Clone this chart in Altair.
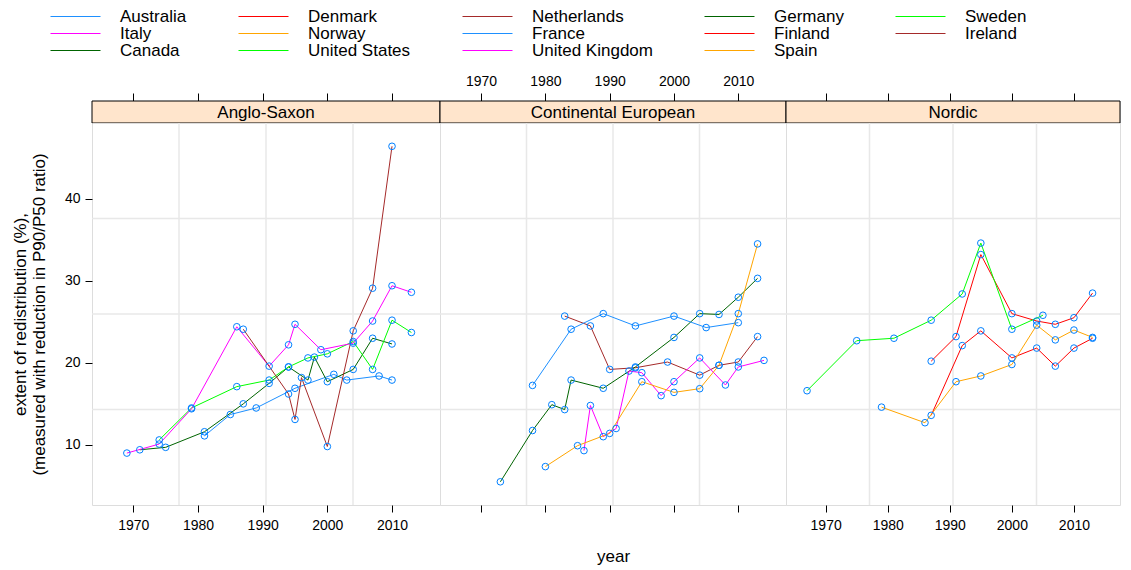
import altair as alt
import pandas as pd

# ---- data ----
countries = ["Australia", "Denmark", "Netherlands", "Germany", "Sweden",
             "Italy", "Norway", "France", "Finland", "Ireland",
             "Canada", "United States", "United Kingdom", "Spain"]
line_colors = ["#1E90FF", "#FF0000", "#A52A2A", "#006400", "#00FF00", "#FF00FF", "#FFA500",
               "#1E90FF", "#FF0000", "#A52A2A", "#006400", "#00FF00", "#FF00FF", "#FFA500"]

groups = ["Anglo-Saxon", "Continental European", "Nordic"]

anglo_members = ["Australia", "Canada", "United States", "United Kingdom", "Ireland"]
cont_members = ["Netherlands", "Germany", "France", "Italy", "Spain"]
nordic_members = ["Denmark", "Norway", "Finland", "Sweden"]

australia_years = [1981, 1985, 1989, 1995, 2001, 2003, 2008, 2010]
australia_vals = [11.1, 13.7, 14.5, 16.9, 18.6, 17.9, 18.4, 17.9]
canada_years = [1971, 1975, 1981, 1987, 1991, 1994, 1997, 1998, 2000, 2004, 2007, 2010]
canada_vals = [9.4, 9.7, 11.6, 15.0, 17.5, 19.5, 17.9, 20.7, 17.7, 19.2, 23.0, 22.3]
us_years = [1974, 1979, 1986, 1991, 1994, 1997, 2000, 2004, 2007, 2010, 2013]
us_vals = [10.6, 14.5, 17.1, 17.9, 19.5, 20.6, 21.1, 22.6, 19.2, 25.2, 23.7]
uk_years = [1969, 1974, 1979, 1986, 1991, 1994, 1995, 1999, 2004, 2007, 2010, 2013]
uk_vals = [9.0, 10.1, 14.4, 24.4, 19.6, 22.2, 24.7, 21.6, 22.4, 25.1, 29.4, 28.6]
ireland_years = [1987, 1994, 1995, 1996, 2000, 2004, 2007, 2010]
ireland_vals = [24.1, 16.2, 13.1, 18.2, 9.8, 23.9, 29.1, 46.4]

germany_years = [1973, 1978, 1981, 1983, 1984, 1989, 1994, 2000, 2004, 2007, 2010, 2013]
germany_vals = [5.5, 11.75, 14.9, 14.3, 17.9, 16.9, 19.5, 23.1, 26.0, 25.9, 28.0, 30.3]
france_years = [1978, 1984, 1989, 1994, 2000, 2005, 2010]
france_vals = [17.25, 24.1, 26.0, 24.5, 25.7, 24.3, 24.9]
netherlands_years = [1983, 1987, 1990, 1994, 1999, 2004, 2007, 2010, 2013]
netherlands_vals = [25.7, 24.5, 19.2, 19.4, 20.1, 18.5, 19.7, 20.1, 23.2]
italy_years = [1986, 1987, 1989, 1991, 1993, 1995, 1998, 2000, 2004, 2008, 2010, 2014]
italy_vals = [9.3, 14.8, 11.0, 12.0, 19.0, 18.8, 16.0, 17.7, 20.6, 17.3, 19.5, 20.3]
spain_years = [1980, 1985, 1990, 1995, 2000, 2004, 2007, 2010, 2013]
spain_vals = [7.35, 9.9, 11.4, 17.7, 16.4, 16.85, 19.7, 26.0, 34.5]

sweden_years = [1967, 1975, 1981, 1987, 1992, 1995, 2000, 2005]
sweden_vals = [16.6, 22.7, 23.0, 25.2, 28.4, 34.6, 24.1, 25.8]
finland_years = [1987, 1991, 1995, 2000, 2004, 2007, 2010, 2013]
finland_vals = [20.2, 23.2, 33.2, 26.0, 25.1, 24.7, 25.5, 28.5]
denmark_years = [1987, 1992, 1995, 2000, 2004, 2007, 2010, 2013]
denmark_vals = [13.6, 22.1, 23.9, 20.6, 21.8, 19.6, 21.8, 23.0]
norway_years = [1979, 1986, 1991, 1995, 2000, 2004, 2007, 2010, 2013]
norway_vals = [14.6, 12.7, 17.7, 18.4, 19.8, 24.6, 22.8, 24.0, 23.1]

x_ticks = [1970, 1980, 1990, 2000, 2010]
y_ticks = [10, 20, 30, 40]

series = {
    "Australia": (australia_years, australia_vals),
    "Canada": (canada_years, canada_vals),
    "United States": (us_years, us_vals),
    "United Kingdom": (uk_years, uk_vals),
    "Ireland": (ireland_years, ireland_vals),
    "Germany": (germany_years, germany_vals),
    "France": (france_years, france_vals),
    "Netherlands": (netherlands_years, netherlands_vals),
    "Italy": (italy_years, italy_vals),
    "Spain": (spain_years, spain_vals),
    "Sweden": (sweden_years, sweden_vals),
    "Finland": (finland_years, finland_vals),
    "Denmark": (denmark_years, denmark_vals),
    "Norway": (norway_years, norway_vals),
}
membership = {"Anglo-Saxon": anglo_members, "Continental European": cont_members,
              "Nordic": nordic_members}

rows = []
for g, members in membership.items():
    for c in members:
        yrs, vals = series[c]
        for y, v in zip(yrs, vals):
            rows.append({"group": g, "country": c, "year": y, "value": v})
df = pd.DataFrame(rows)

# ---- layout / style ----
FONT = "Liberation Sans"
XDOM = [1963.61, 2017.42]
YDOM = [2.67, 49.24]
PANEL_H = 382
STRIP_H = 22
widths = [348, 346, 334]
xgrid = [XDOM[0] + k * (XDOM[1] - XDOM[0]) / 4 for k in (1, 2, 3)]
ygrid = [YDOM[0] + k * (YDOM[1] - YDOM[0]) / 4 for k in (1, 2, 3)]

xs = alt.Scale(domain=XDOM, nice=False, zero=False)
ys = alt.Scale(domain=YDOM, nice=False, zero=False)
color_scale = alt.Scale(domain=countries, range=line_colors)

legend = alt.Legend(
    title=None, orient="none", legendX=-42, legendY=-93, columns=5,
    direction="horizontal",
    symbolType="stroke", symbolSize=2500, symbolStrokeWidth=1,
    labelFontSize=17, labelFont=FONT, labelOffset=19, columnPadding=51,
    rowPadding=-1, labelLimit=300, clipHeight=17,
)


def bottom_axis(i):
    common = dict(values=x_ticks, format="d", tickSize=7, tickColor="black", domain=False,
                  grid=False, labelFontSize=14, labelFont=FONT, labelColor="black",
                  labelPadding=6, orient="bottom")
    if i == 1:
        return alt.Axis(labels=False, title="year", titleFontSize=17, titleFont=FONT,
                        titleFontWeight="normal", titlePadding=36, titleColor="black",
                        **common)
    return alt.Axis(labels=True, title=None, **common)


def left_axis(i):
    if i == 0:
        return alt.Axis(values=y_ticks, tickSize=7, tickColor="black", domain=False,
                        grid=False, labelFontSize=14, labelFont=FONT, labelColor="black",
                        labelPadding=5,
                        title=["extent of redistribution (%),",
                               "(measured with reduction in P90/P50 ratio)"],
                        titleFontSize=17, titleFont=FONT, titleFontWeight="normal",
                        titleColor="black", titlePadding=16, titleLineHeight=19)
    return None


def panel(i):
    g = groups[i]
    d = df[df["group"] == g]
    xa = bottom_axis(i)
    ya = left_axis(i)
    xenc = alt.X("year:Q", scale=xs, axis=xa)
    yenc = alt.Y("value:Q", scale=ys, axis=ya)
    gx = alt.Chart(pd.DataFrame({"year": xgrid})).mark_rule(
        color="#E8E8E8", strokeWidth=1.5).encode(x=xenc)
    gy = alt.Chart(pd.DataFrame({"value": ygrid})).mark_rule(
        color="#E8E8E8", strokeWidth=1.5).encode(y=yenc)
    lines = alt.Chart(d).mark_line(strokeWidth=1).encode(
        x=xenc, y=yenc,
        color=alt.Color("country:N", scale=color_scale, legend=legend),
        detail="country:N", order="year:Q")
    pts = alt.Chart(d).mark_point(shape="circle", filled=False, color="#0080FF",
                                  size=44, strokeWidth=1, opacity=1).encode(x=xenc, y=yenc)
    return alt.layer(gx, gy, lines, pts).properties(width=widths[i], height=PANEL_H)


def strip(i):
    g = groups[i]
    w = widths[i]
    sd = pd.DataFrame({"name": [g]})
    top_axis = alt.Axis(orient="top", values=x_ticks, format="d", tickSize=8,
                        tickColor="black", domain=False, grid=False, labels=(i == 1),
                        labelFontSize=14, labelFont=FONT, labelColor="black",
                        labelPadding=5, title=None)
    rect = alt.Chart(sd).mark_rect(fill="#FFE5CC", stroke="black", strokeWidth=1).encode(
        x=alt.value(0), x2=alt.value(w), y=alt.value(0), y2=alt.value(STRIP_H))
    txt = alt.Chart(sd).mark_text(fontSize=17, font=FONT, color="black",
                                  baseline="middle", align="center").encode(
        text="name:N", x=alt.value(w / 2), y=alt.value(STRIP_H / 2 + 0.5))
    ax = alt.Chart(df[df["group"] == g]).mark_point(opacity=0).encode(
        x=alt.X("year:Q", scale=xs, axis=top_axis))
    return alt.layer(rect, txt, ax).properties(width=w, height=STRIP_H)


chart = alt.concat(
    strip(0), strip(1), strip(2), panel(0), panel(1), panel(2),
    columns=3, spacing=0, bounds="flush",
).properties(
    padding={"left": 2, "top": 0, "right": 0, "bottom": 0},
).configure_view(
    stroke="black", strokeWidth=1,
).configure(
    font=FONT,
)

chart.save("out.html", embed_options={"renderer": "svg", "actions": False})
